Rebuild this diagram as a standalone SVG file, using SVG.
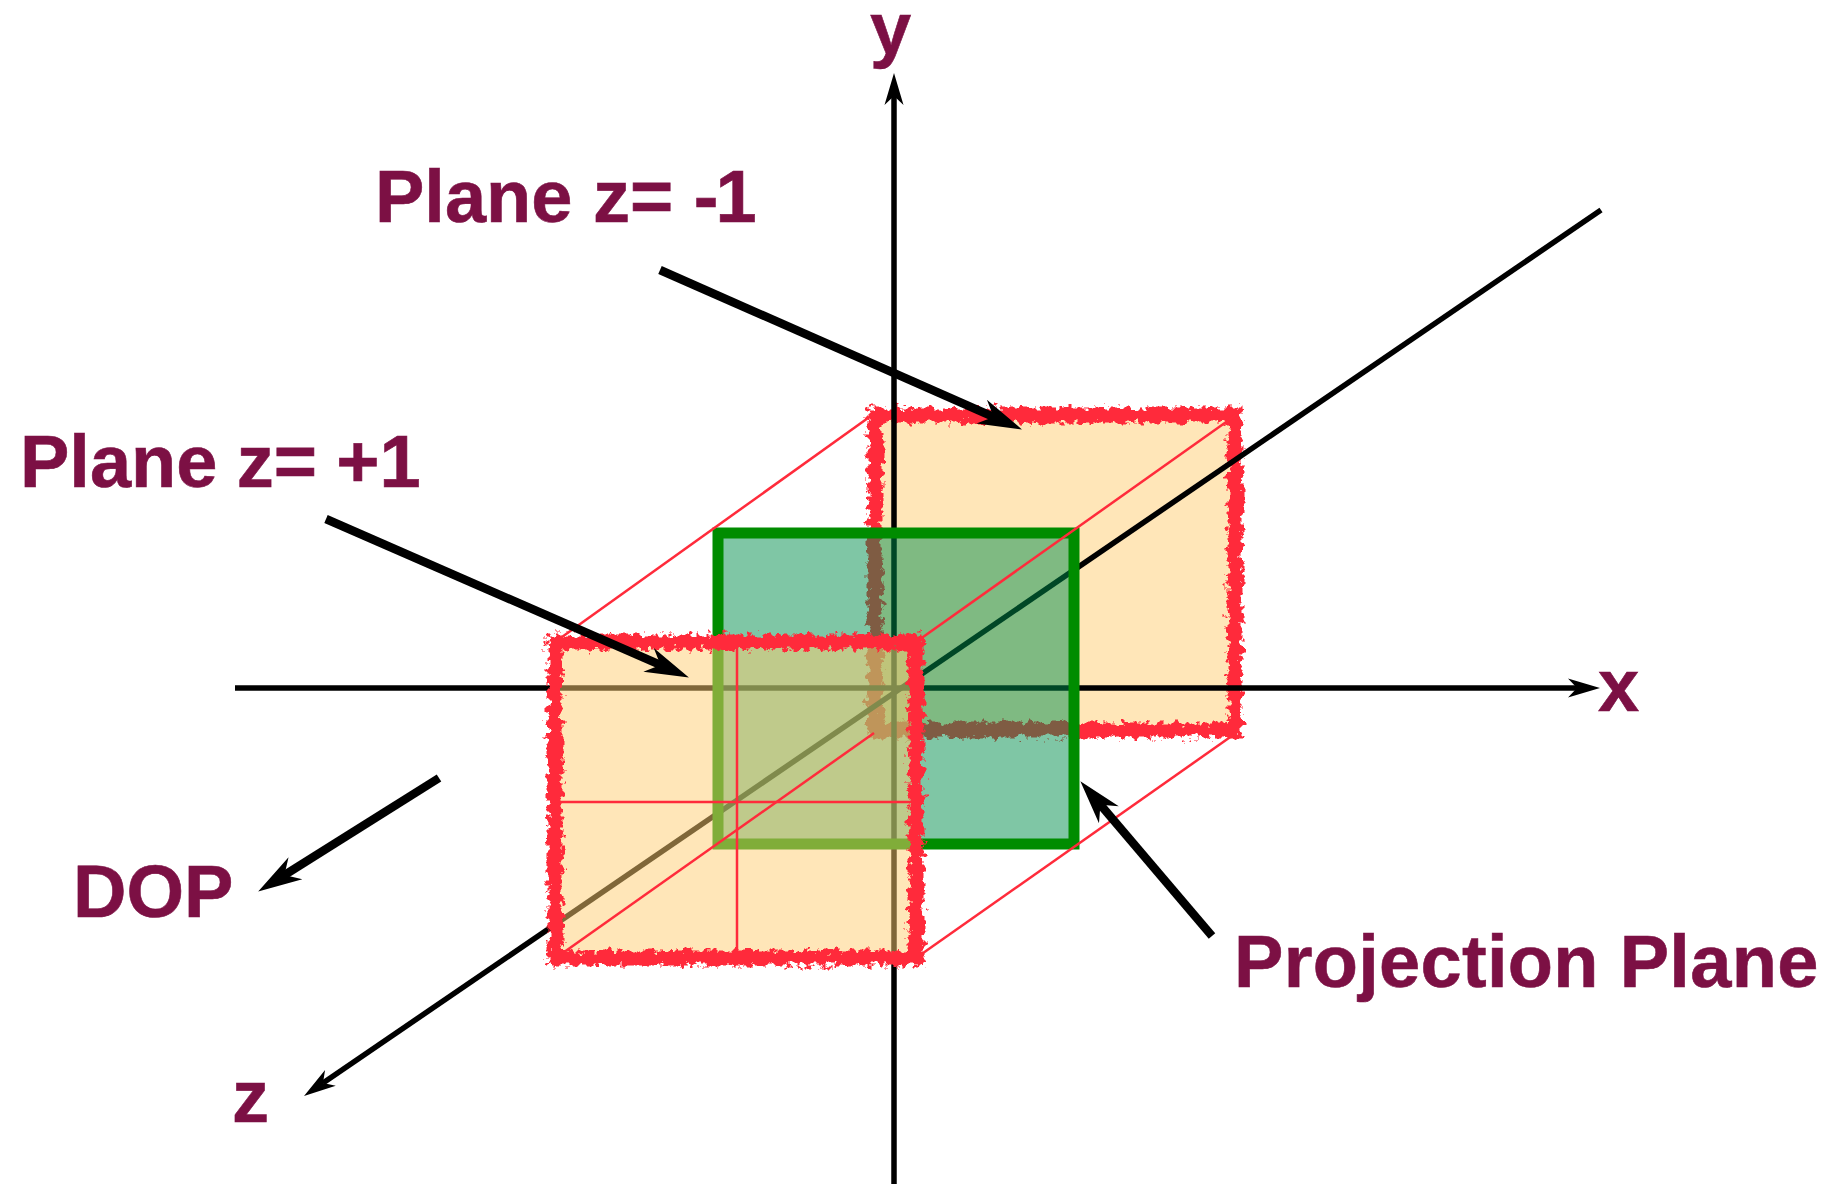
<svg xmlns="http://www.w3.org/2000/svg" width="1828" height="1184" viewBox="0 0 1828 1184">
<style>
text{font-family:"Liberation Sans",Arial,sans-serif;font-weight:bold;font-size:74px;fill:#7c1044;stroke:#7c1044;stroke-width:.6}
.axis{stroke:#000;stroke-width:5.5;fill:none}
.call{stroke:#000;stroke-width:8.5;fill:none}
.fill{fill:#ffcd71;fill-opacity:.5;stroke:none}
.rough{fill:none;stroke:#ff2b3b;stroke-width:15;filter:url(#rough)}
.thin{stroke:#ff2b3b;stroke-width:2.5;fill:none}
</style>
<defs>
<filter id="rough" filterUnits="userSpaceOnUse" x="500" y="380" width="780" height="610">
<feTurbulence type="fractalNoise" baseFrequency="0.15" numOctaves="4" seed="4" result="n"/>
<feDisplacementMap in="SourceGraphic" in2="n" scale="15" xChannelSelector="R" yChannelSelector="G"/>
</filter>
<marker id="thinHead" markerUnits="userSpaceOnUse" markerWidth="34" markerHeight="20" viewBox="0 0 32 20" refX="9" refY="10" orient="auto">
<path d="M32 10L0 .5L9 10L0 19.5Z" fill="#000"/>
</marker>
<marker id="thickHead" markerUnits="userSpaceOnUse" markerWidth="44" markerHeight="28" viewBox="0 0 44 28" refX="14" refY="14" orient="auto">
<path d="M44 14L0 1L13 14L0 27Z" fill="#000"/>
</marker>
</defs>

<g id="plane-back">
<rect class="fill" x="875" y="415" width="360" height="315"/>
<rect class="rough" x="875" y="415" width="360" height="315"/>
</g>

<g id="axes">
<line class="axis" x1="894" y1="1184" x2="894" y2="96" marker-end="url(#thinHead)"/>
<line class="axis" x1="235" y1="688" x2="1577" y2="688" marker-end="url(#thinHead)"/>
<line class="axis" x1="1601" y1="210" x2="323" y2="1083" marker-end="url(#thinHead)"/>
</g>

<g id="projection-plane">
<rect x="718" y="533" width="356" height="311" fill="#008d4b" fill-opacity=".5" stroke="#008c00" stroke-width="11"/>
</g>

<g id="plane-front-fill">
<rect class="fill" x="555" y="642" width="361" height="316"/>
</g>

<g id="projector-lines">
<line class="thin" x1="555" y1="642" x2="875" y2="413"/>
<line class="thin" x1="916" y1="642" x2="1236" y2="415"/>
<line class="thin" x1="560" y1="955" x2="874" y2="733"/>
<line class="thin" x1="916" y1="958" x2="1236" y2="733"/>
<line class="thin" x1="737" y1="642" x2="737" y2="958"/>
<line class="thin" x1="555" y1="802" x2="916" y2="802"/>
</g>

<g id="plane-front">
<rect class="rough" x="555" y="642" width="361" height="316"/>
</g>

<g id="connectors">
<line class="call" x1="660" y1="270" x2="994.5" y2="417.3" marker-end="url(#thickHead)"/>
<line class="call" x1="326" y1="519" x2="661.4" y2="665.4" marker-end="url(#thickHead)"/>
<line class="call" x1="439" y1="778" x2="283.6" y2="875.6" marker-end="url(#thickHead)"/>
<line class="call" x1="1212" y1="936" x2="1099.8" y2="804.1" marker-end="url(#thickHead)"/>
</g>

<g id="labels">
<text x="870" y="54">y</text>
<text x="1598" y="711">x</text>
<text x="232" y="1122">z</text>
<text x="375" y="222">Plane z= -<tspan dx="-3">1</tspan></text>
<text x="20" y="487" word-spacing="-1.2">Plane z= +1</text>
<text x="73" y="917">DOP</text>
<text x="1234" y="987" letter-spacing=".3">Projection Plane</text>
</g>
</svg>
